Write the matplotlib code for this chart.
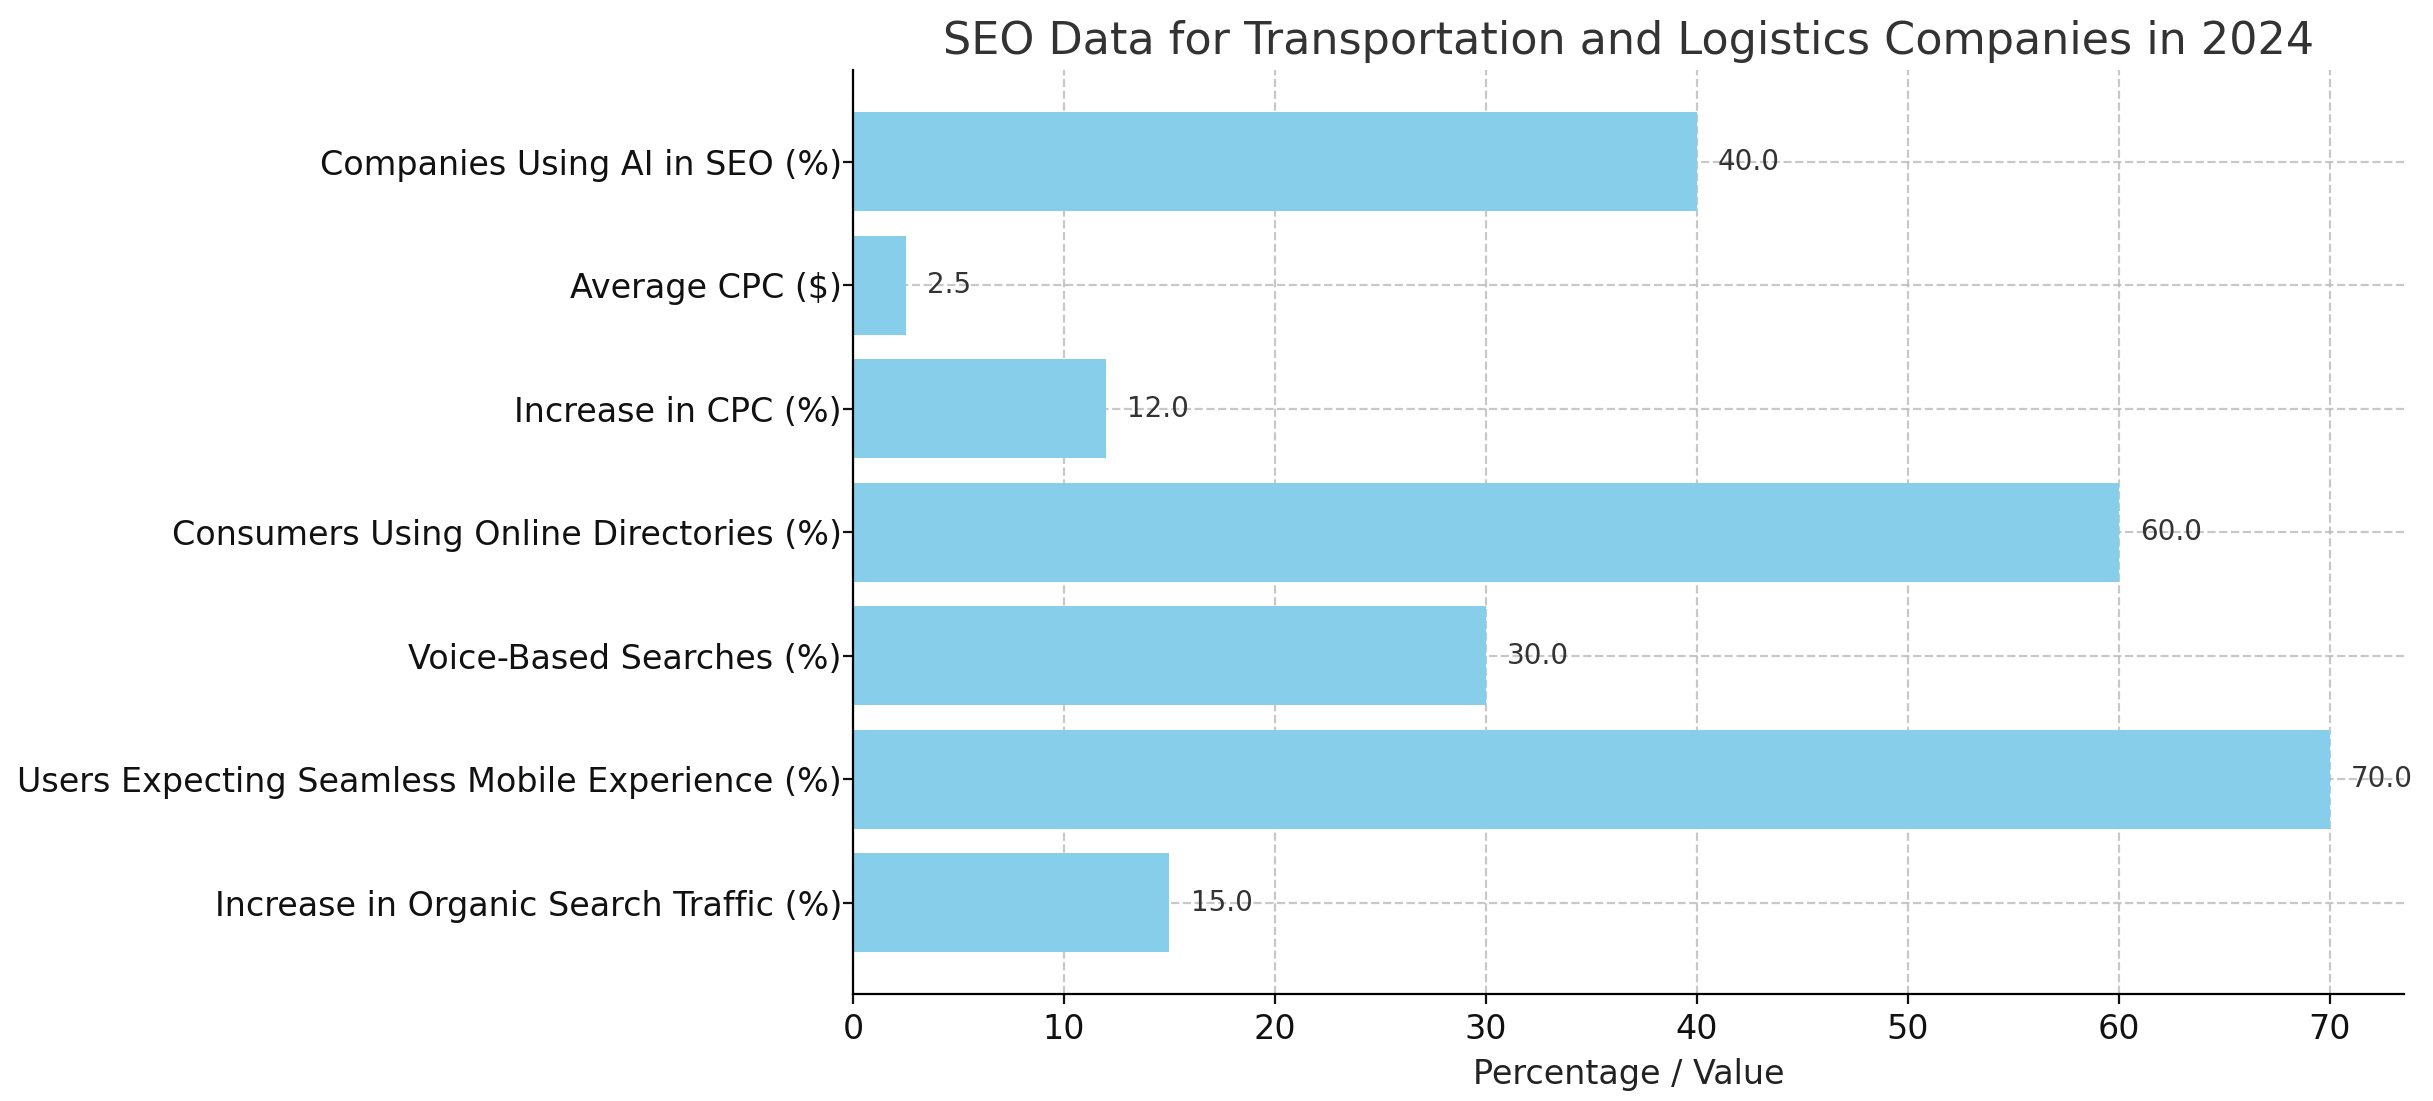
import matplotlib
matplotlib.use('Agg')
from matplotlib import pyplot as plt

# 数据
categories = [
    'Companies Using AI in SEO (%)',
    'Average CPC ($)',
    'Increase in CPC (%)',
    'Consumers Using Online Directories (%)',
    'Voice-Based Searches (%)',
    'Users Expecting Seamless Mobile Experience (%)',
    'Increase in Organic Search Traffic (%)',
]
values = [40.0, 2.5, 12.0, 60.0, 30.0, 70.0, 15.0]

fig, ax = plt.subplots(figsize=(12.165, 5.505), dpi=200)
fig.subplots_adjust(left=0.3506, right=0.988, top=0.936, bottom=0.0972)

bars = ax.barh(categories, values, color='skyblue', height=0.8, zorder=2)
ax.invert_yaxis()

for bar, v in zip(bars, values):
    ax.text(v + 1, bar.get_y() + bar.get_height() / 2, f'{v:.1f}',
            va='center', ha='left', fontsize=10, color='#333333')

ax.set_title('SEO Data for Transportation and Logistics Companies in 2024',
             fontsize=16, color='#333333')
ax.set_xlabel('Percentage / Value', fontsize=12, color='#222222')
ax.tick_params(axis='both', labelsize=12, colors='#111111')
ax.tick_params(axis='y', pad=0.5)
ax.grid(True, linestyle='--', color='#bbbbbb', alpha=0.8, linewidth=0.8, zorder=0)
ax.set_axisbelow(True)
ax.spines['top'].set_visible(False)
ax.spines['right'].set_visible(False)

fig.savefig('out.png', dpi=200)
